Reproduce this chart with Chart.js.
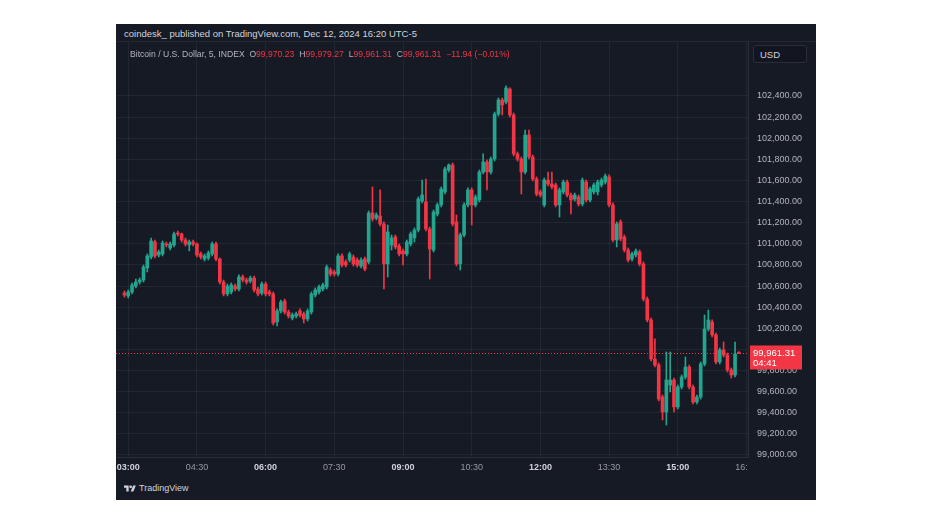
<!DOCTYPE html>
<html>
<head>
<meta charset="utf-8">
<script src="https://cdn.jsdelivr.net/npm/chart.js@4.4.1/dist/chart.umd.min.js"></script>
<style>
    body { margin: 0; background: #fff; width: 934px; height: 525px; overflow: hidden; font-family: "Liberation Sans", Arial, sans-serif; }
    #panel { position: absolute; left: 116px; top: 24px; width: 700px; height: 476px; background: #161a25; }
    #header { position: absolute; left: 8px; top: 4px; font-size: 9.5px; color: #d1d4dc; white-space: nowrap; }
    #headerLine { position: absolute; left: 0; top: 17px; width: 700px; height: 1px; background: #232733; }
    #legend { position: absolute; left: 14px; top: 25px; font-size: 8.6px; color: #b2b5be; white-space: nowrap; z-index: 2; }
    #legend .v { color: #f23645; margin-right: 5px; }
    #usd { position: absolute; left: 637px; top: 21px; width: 54px; height: 18px; border: 1px solid #2a2e39; border-radius: 3px; background: #131620; color: #d1d4dc; font-size: 9.5px; line-height: 17px; padding-left: 6px; box-sizing: border-box; z-index: 2; }
    #chart { position: absolute; left: 0; top: 18px; }
    #footer { position: absolute; left: 8px; top: 459px; font-size: 9px; color: #d1d4dc; display: flex; align-items: center; gap: 3px; }
</style>
</head>
<body>
<div id="panel">
    <div id="header">coindesk_ published on TradingView.com, Dec 12, 2024 16:20 UTC-5</div>
    <div id="headerLine"></div>
    <div id="legend"></div>
    <div id="usd">USD</div>
    <canvas id="chart" width="700" height="436"></canvas>
    <div id="footer">
        <svg width="12" height="9" viewBox="0 0 36 26"><path d="M14 22H7V11H0V4h14v18z" fill="#d1d4dc"/><circle cx="20" cy="8" r="4" fill="#d1d4dc"/><path d="M28 22h-8l7.5-18h8L28 22z" fill="#d1d4dc"/></svg>
        <span>TradingView</span>
    </div>
</div>
<script>
// BTC / USD index, 5 minute candles, Dec 12 2024 (UTC-5)
const times = [
    '02:55',
    '03:00', '03:05', '03:10', '03:15', '03:20', '03:25', '03:30', '03:35', '03:40', '03:45', '03:50', '03:55',
    '04:00', '04:05', '04:10', '04:15', '04:20', '04:25', '04:30', '04:35', '04:40', '04:45', '04:50', '04:55',
    '05:00', '05:05', '05:10', '05:15', '05:20', '05:25', '05:30', '05:35', '05:40', '05:45', '05:50', '05:55',
    '06:00', '06:05', '06:10', '06:15', '06:20', '06:25', '06:30', '06:35', '06:40', '06:45', '06:50', '06:55',
    '07:00', '07:05', '07:10', '07:15', '07:20', '07:25', '07:30', '07:35', '07:40', '07:45', '07:50', '07:55',
    '08:00', '08:05', '08:10', '08:15', '08:20', '08:25', '08:30', '08:35', '08:40', '08:45', '08:50', '08:55',
    '09:00', '09:05', '09:10', '09:15', '09:20', '09:25', '09:30', '09:35', '09:40', '09:45', '09:50', '09:55',
    '10:00', '10:05', '10:10', '10:15', '10:20', '10:25', '10:30', '10:35', '10:40', '10:45', '10:50', '10:55',
    '11:00', '11:05', '11:10', '11:15', '11:20', '11:25', '11:30', '11:35', '11:40', '11:45', '11:50', '11:55',
    '12:00', '12:05', '12:10', '12:15', '12:20', '12:25', '12:30', '12:35', '12:40', '12:45', '12:50', '12:55',
    '13:00', '13:05', '13:10', '13:15', '13:20', '13:25', '13:30', '13:35', '13:40', '13:45', '13:50', '13:55',
    '14:00', '14:05', '14:10', '14:15', '14:20', '14:25', '14:30', '14:35', '14:40', '14:45', '14:50', '14:55',
    '15:00', '15:05', '15:10', '15:15', '15:20', '15:25', '15:30', '15:35', '15:40', '15:45', '15:50', '15:55',
    '16:00', '16:05', '16:10', '16:15', '16:20'
];

const opens = [
    100534, 100506, 100544, 100600, 100638, 100657, 100771, 100875, 101017, 100894,
    100904, 100998, 100960, 100989, 101102, 101093, 101036, 100989, 101017, 100998,
    100904, 100856, 100866, 100904, 100998, 100856, 100638, 100525, 100544, 100600,
    100572, 100686, 100657, 100648, 100676, 100572, 100534, 100619, 100544, 100525,
    100260, 100364, 100458, 100354, 100297, 100316, 100364, 100335, 100288, 100354,
    100515, 100544, 100572, 100591, 100752, 100733, 100714, 100885, 100828, 100847,
    100875, 100847, 100790, 100856, 100828, 101292, 101244, 101263, 101188, 100809,
    100989, 101065, 100979, 100932, 100904, 100998, 101055, 101131, 101405, 101396,
    101140, 100941, 101282, 101368, 101491, 101699, 101746, 101207, 100809, 101083,
    101368, 101510, 101368, 101415, 101680, 101775, 101680, 101803, 102229, 102362,
    102343, 102466, 102220, 101851, 101803, 101680, 102030, 101822, 101614, 101491,
    101368, 101604, 101566, 101557, 101368, 101491, 101585, 101462, 101424, 101443,
    101377, 101585, 101415, 101491, 101491, 101557, 101585, 101633, 101368, 101036,
    101207, 101065, 100941, 100856, 100894, 100922, 100809, 100477, 100279, 99909,
    99852, 99549, 99407, 99663, 99710, 99455, 99644, 99739, 99833, 99644,
    99502, 99549, 99862, 100193, 100260, 100137, 99881, 99994, 99947, 99805,
    99758, 99970.23
];

const highs = [
    100553, 100563, 100629, 100667, 100676, 100799, 100904, 101055, 101036, 100941,
    101027, 101017, 101017, 101112, 101121, 101102, 101055, 101036, 101036, 101008,
    100922, 100904, 100932, 101017, 101017, 100866, 100657, 100619, 100629, 100619,
    100705, 100705, 100676, 100695, 100695, 100591, 100638, 100638, 100563, 100544,
    100383, 100468, 100477, 100373, 100345, 100354, 100383, 100354, 100383, 100544,
    100582, 100610, 100629, 100799, 100771, 100752, 100904, 100904, 100847, 100922,
    100894, 100866, 100866, 100875, 101311, 101538, 101292, 101510, 101207, 101178,
    101083, 101083, 100998, 100951, 101036, 101112, 101150, 101443, 101604, 101614,
    101159, 101320, 101387, 101538, 101727, 101756, 101765, 101273, 101102, 101387,
    101529, 101529, 101462, 101699, 101851, 101794, 101822, 102248, 102381, 102381,
    102495, 102476, 102239, 101870, 101822, 102078, 102078, 101841, 101633, 101510,
    101623, 101680, 101680, 101576, 101529, 101604, 101604, 101481, 101481, 101462,
    101623, 101604, 101538, 101576, 101604, 101623, 101661, 101652, 101387, 101207,
    101226, 101083, 100960, 100922, 100951, 100941, 100828, 100496, 100297, 100099,
    99871, 99568, 99976, 99976, 99729, 99663, 99758, 99928, 99852, 99663,
    99568, 99881, 100326, 100373, 100279, 100155, 100013, 100070, 99966, 99824,
    100070, 99979.27
];

const lows = [
    100496, 100487, 100525, 100582, 100619, 100638, 100733, 100856, 100866, 100875,
    100885, 100970, 100941, 100970, 101074, 101017, 100979, 100932, 100979, 100875,
    100856, 100837, 100847, 100885, 100837, 100619, 100506, 100506, 100525, 100553,
    100553, 100638, 100619, 100629, 100544, 100506, 100515, 100506, 100506, 100231,
    100222, 100345, 100335, 100297, 100279, 100297, 100307, 100250, 100269, 100335,
    100496, 100525, 100553, 100572, 100695, 100695, 100695, 100780, 100780, 100828,
    100790, 100780, 100771, 100743, 100809, 101216, 101226, 101169, 100572, 100686,
    100941, 100951, 100885, 100799, 100885, 100979, 101017, 101112, 101387, 101121,
    100667, 100922, 101263, 101349, 101472, 101680, 101169, 100790, 100752, 101065,
    101349, 101178, 101349, 101396, 101661, 101510, 101661, 101784, 102210, 102220,
    102324, 102201, 101832, 101784, 101472, 101661, 101803, 101595, 101453, 101443,
    101349, 101548, 101519, 101349, 101254, 101472, 101443, 101282, 101405, 101358,
    101358, 101396, 101396, 101472, 101462, 101538, 101566, 101349, 101017, 100970,
    101027, 100922, 100828, 100837, 100875, 100790, 100458, 100260, 99890, 99833,
    99512, 99332, 99284, 99597, 99407, 99436, 99625, 99720, 99625, 99483,
    99483, 99530, 99843, 100174, 100118, 99862, 99862, 99928, 99786, 99729,
    99739, 99961.31
];

const closes = [
    100515, 100544, 100610, 100638, 100657, 100780, 100885, 101027, 100885, 100922,
    101008, 100989, 100998, 101093, 101093, 101036, 100998, 101017, 100998, 100894,
    100875, 100885, 100913, 100998, 100856, 100638, 100525, 100600, 100610, 100572,
    100686, 100657, 100638, 100676, 100563, 100525, 100619, 100525, 100525, 100250,
    100364, 100449, 100354, 100316, 100326, 100335, 100326, 100288, 100364, 100525,
    100563, 100591, 100610, 100780, 100714, 100714, 100885, 100799, 100799, 100904,
    100809, 100799, 100847, 100761, 101292, 101235, 101273, 101188, 100809, 101112,
    101055, 100970, 100904, 100904, 101017, 101093, 101131, 101424, 101462, 101140,
    100951, 101301, 101368, 101519, 101709, 101746, 101188, 100809, 101083, 101368,
    101510, 101368, 101443, 101680, 101775, 101680, 101803, 102229, 102362, 102315,
    102476, 102220, 101851, 101803, 101680, 102030, 101822, 101614, 101472, 101462,
    101604, 101566, 101538, 101368, 101510, 101585, 101462, 101415, 101462, 101377,
    101604, 101415, 101519, 101557, 101585, 101604, 101642, 101368, 101036, 101188,
    101046, 100941, 100847, 100904, 100932, 100809, 100477, 100279, 99909, 99852,
    99530, 99407, 99710, 99710, 99455, 99644, 99739, 99833, 99644, 99502,
    99549, 99862, 100193, 100279, 100137, 99881, 99994, 99947, 99805, 99758,
    99957, 99961.31
];

const priceTicksMin = 99000;
const priceTicksMax = 102400;
const priceStep = 200;
const timeStep = 18;   // 90 minutes, in 5 minute slots
const legendChange = '\u221211.94 (\u22120.01%)';
const countdown = '04:41';

const upColor = '#22a68f';
const downColor = '#f23645';
const gridColor = 'rgba(255,255,255,0.055)';
const panelBg = '#161a25';

const fmt = v => v.toLocaleString('en-US', { minimumFractionDigits: 2, maximumFractionDigits: 2 });
const slotOf = t => { const [h, m] = t.split(':').map(Number); return (h * 60 + m) / 5; };
const slotLabel = v => {
    const mins = Math.round(v * 5);
    return String(Math.floor(mins / 60)).padStart(2, '0') + ':' + String(mins % 60).padStart(2, '0');
};
const isHourMark = c => c.tick && c.tick.value % 36 === 0;
const isUp = i => closes[i] >= opens[i];
const candleColor = c => isUp(c.dataIndex) ? upColor : downColor;

const last = times.length - 1;

// legend line
document.getElementById('legend').innerHTML =
    'Bitcoin / U.S. Dollar, 5, INDEX&nbsp;&nbsp;' +
    'O<span class="v">' + fmt(opens[last]) + '</span>' +
    'H<span class="v">' + fmt(highs[last]) + '</span>' +
    'L<span class="v">' + fmt(lows[last]) + '</span>' +
    'C<span class="v">' + fmt(closes[last]) + '</span>' +
    '<span class="v">' + legendChange + '</span>';

const wickData = times.map((t, i) => ({ x: slotOf(t), y: [lows[i], highs[i]] }));
const bodyData = times.map((t, i) => ({ x: slotOf(t), y: [opens[i], closes[i]] }));

// dotted last price line, axis column mask and last price label
const lastPriceLine = {
    id: 'lastPriceLine',
    beforeDatasetsDraw(chart) {
        const { ctx, chartArea, scales } = chart;
        const y = Math.round(scales.y.getPixelForValue(closes[last])) + 0.5;
        ctx.save();
        ctx.strokeStyle = downColor;
        ctx.lineWidth = 1;
        ctx.setLineDash([1, 2]);
        ctx.beginPath();
        ctx.moveTo(chartArea.left, y);
        ctx.lineTo(chartArea.right, y);
        ctx.stroke();
        ctx.restore();
    },
    afterDatasetsDraw(chart) {
        const { ctx, chartArea } = chart;
        ctx.save();
        ctx.fillStyle = panelBg;
        ctx.fillRect(chartArea.right, 0, chart.width - chartArea.right, chart.height);
        ctx.restore();
    },
    afterDraw(chart) {
        const { ctx, chartArea, scales } = chart;
        const y = scales.y.getPixelForValue(closes[last]);
        const x = chartArea.right + 2;
        ctx.save();
        ctx.fillStyle = downColor;
        ctx.fillRect(x, y - 8, 52, 24);
        ctx.fillStyle = '#ffffff';
        ctx.font = '9.5px "Liberation Sans", Arial, sans-serif';
        ctx.textBaseline = 'middle';
        ctx.fillText(fmt(closes[last]), x + 3, y);
        ctx.fillText(countdown, x + 3, y + 10);
        ctx.restore();
    }
};

const ctx = document.getElementById('chart').getContext('2d');
new Chart(ctx, {
    type: 'bar',
    data: {
        datasets: [
            {
                label: 'wick',
                data: wickData,
                barThickness: 1,
                grouped: false,
                backgroundColor: candleColor
            },
            {
                label: 'body',
                data: bodyData,
                barThickness: 3,
                minBarLength: 1,
                grouped: false,
                backgroundColor: candleColor
            }
        ]
    },
    options: {
        responsive: false,
        animation: false,
        layout: { padding: 0 },
        plugins: {
            legend: { display: false },
            tooltip: { enabled: false }
        },
        scales: {
            x: {
                type: 'linear',
                bounds: 'data',
                min: 32.8,
                max: 198.39,
                offset: false,
                grid: { color: gridColor, drawTicks: false, offset: false },
                border: { color: '#2a2e39' },
                ticks: {
                    maxRotation: 0,
                    autoSkip: false,
                    padding: 5,
                    callback: v => slotLabel(v),
                    color: c => isHourMark(c) ? '#d1d4dc' : '#9598a1',
                    font: c => ({
                        family: '"Liberation Sans", Arial, sans-serif',
                        size: 9,
                        weight: isHourMark(c) ? 'bold' : 'normal'
                    })
                },
                afterBuildTicks: s => {
                    const ticks = [];
                    for (let v = Math.ceil(s.min / timeStep) * timeStep; v <= s.max; v += timeStep) ticks.push({ value: v });
                    s.ticks = ticks;
                },
                afterFit: s => { s.height = 21; s.paddingLeft = 0; s.paddingRight = 0; }
            },
            y: {
                position: 'right',
                bounds: 'data',
                min: 98981,
                max: 102911,
                grid: { color: gridColor, drawTicks: false },
                border: { color: '#2a2e39', z: 1 },
                ticks: {
                    z: 1,
                    padding: 9,
                    color: '#b2b5be',
                    font: { family: '"Liberation Sans", Arial, sans-serif', size: 9 },
                    callback: v => fmt(v)
                },
                afterBuildTicks: s => {
                    const ticks = [];
                    for (let v = priceTicksMin; v <= priceTicksMax; v += priceStep) ticks.push({ value: v });
                    s.ticks = ticks;
                },
                afterFit: s => { s.width = 68; s.paddingTop = 0; s.paddingBottom = 0; }
            }
        }
    },
    plugins: [lastPriceLine]
});
</script>
</body>
</html>
